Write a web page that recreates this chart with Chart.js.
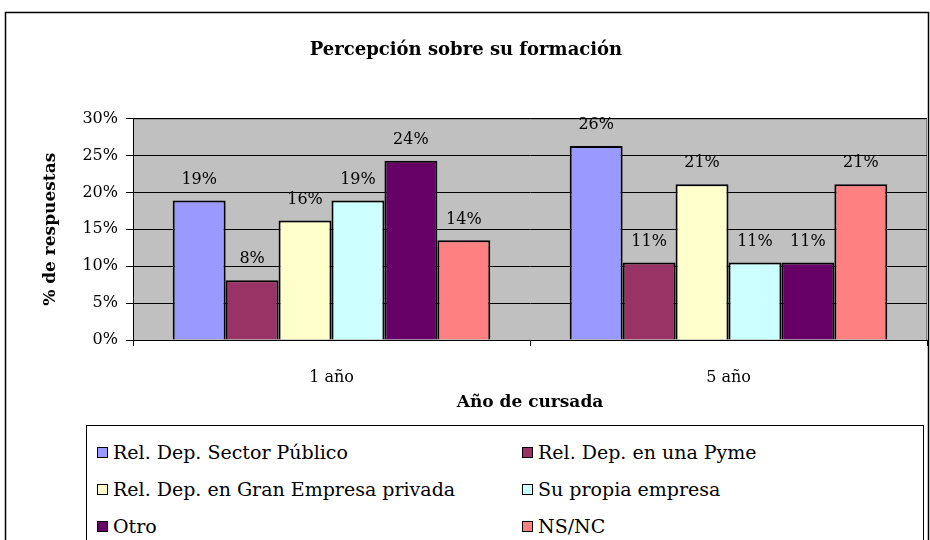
<!DOCTYPE html>
<html>
<head>
<meta charset="utf-8">
<script src="https://cdn.jsdelivr.net/npm/chart.js@4/dist/chart.umd.min.js"></script>
<style>
  body { margin: 0; background: #fff; }
  #wrap { position: relative; width: 930px; height: 540px; overflow: hidden; }
  #leyenda {
    position: absolute; left: 86px; top: 425px; width: 838px; height: 140px;
    border: 1px solid #000; box-sizing: border-box; background: #fff;
    font-family: 'DejaVu Serif', serif; font-size: 19px; color: #000;
  }
  .item { position: absolute; display: flex; align-items: center; white-space: nowrap; font-family: 'DejaVu Serif', serif; }
  .item span.caja { width: 9px; height: 9px; border: 1.5px solid #000; margin-right: 5px; }
</style>
</head>
<body>
<div id="wrap">
  <canvas id="grafico" width="930" height="540"></canvas>
  <div id="leyenda"></div>
</div>
<script>
// Datos (porcentaje de respuestas)
const categorias = ['1 año', '5 año'];
const series = [
  'Rel. Dep. Sector Público',
  'Rel. Dep. en una Pyme',
  'Rel. Dep. en Gran Empresa privada',
  'Su propia empresa',
  'Otro',
  'NS/NC'
];
const valoresPublico = [18.9, 26.3];
const valoresPyme = [8.1, 10.5];
const valoresGranEmpresa = [16.2, 21.1];
const valoresPropia = [18.9, 10.5];
const valoresOtro = [24.3, 10.5];
const valoresNsNc = [13.5, 21.1];
const ticksY = [0, 5, 10, 15, 20, 25, 30];

const valores = [valoresPublico, valoresPyme, valoresGranEmpresa, valoresPropia, valoresOtro, valoresNsNc];
const colores = ['#9999FF', '#993366', '#FFFFCC', '#CCFFFF', '#660066', '#FF8080'];
const fuente = "'DejaVu Serif', serif";

// Fondo gris del área de trazado y marco exterior
const fondo = {
  id: 'fondo',
  beforeDraw(chart) {
    const ctx = chart.ctx;
    const a = chart.chartArea;
    ctx.save();
    ctx.fillStyle = '#fff';
    ctx.fillRect(0, 0, chart.width, chart.height);
    ctx.strokeStyle = '#000';
    ctx.lineWidth = 1.5;
    ctx.strokeRect(5.5, 12.5, 923, 600);
    ctx.fillStyle = '#C0C0C0';
    ctx.fillRect(a.left, a.top, a.right - a.left, a.bottom - a.top);
    ctx.strokeStyle = '#808080';
    ctx.lineWidth = 1;
    ctx.strokeRect(a.left + 0.5, a.top + 0.5, a.right - a.left - 1, a.bottom - a.top);
    ctx.restore();
  }
};

// Etiquetas de valor sobre cada barra
const etiquetas = {
  id: 'etiquetas',
  afterDatasetsDraw(chart) {
    const ctx = chart.ctx;
    ctx.save();
    ctx.font = '16px ' + fuente;
    ctx.fillStyle = '#000';
    ctx.textAlign = 'center';
    ctx.textBaseline = 'middle';
    chart.data.datasets.forEach((ds, i) => {
      chart.getDatasetMeta(i).data.forEach((bar, j) => {
        ctx.fillText(Math.round(ds.data[j]) + '%', bar.x, bar.y - 21);
      });
    });
    ctx.restore();
  }
};

new Chart(document.getElementById('grafico').getContext('2d'), {
  type: 'bar',
  data: {
    labels: categorias,
    datasets: series.map((nombre, i) => ({
      label: nombre,
      data: valores[i],
      backgroundColor: colores[i],
      borderColor: '#000',
      borderWidth: 2,
      categoryPercentage: 0.8,
      barPercentage: 1
    }))
  },
  options: {
    responsive: false,
    animation: false,
    layout: { padding: { top: 12, left: 5, right: 3, bottom: 125 } },
    plugins: {
      legend: { display: false },
      tooltip: { enabled: false },
      title: {
        display: true,
        text: 'Percepción sobre su formación',
        color: '#000',
        font: { family: fuente, size: 18, weight: 'bold' },
        padding: { top: 28, bottom: 57 }
      }
    },
    scales: {
      x: {
        afterFit(scale) { scale.height = 75; },
        grid: { drawOnChartArea: false, drawTicks: true, tickLength: 6, color: '#000' },
        border: { color: '#000', width: 1 },
        ticks: { color: '#000', font: { family: fuente, size: 16 }, padding: 22 },
        title: {
          display: true,
          text: 'Año de cursada',
          color: '#000',
          font: { family: fuente, size: 17, weight: 'bold' },
          padding: { bottom: 2 }
        }
      },
      y: {
        min: 0,
        max: 30,
        afterFit(scale) { scale.width = 128; },
        afterBuildTicks(scale) { scale.ticks = ticksY.map(v => ({ value: v })); },
        grid: { color: '#000', lineWidth: 1, tickLength: 7 },
        border: { color: '#000', width: 1 },
        ticks: {
          color: '#000',
          font: { family: fuente, size: 16 },
          padding: 8,
          callback: v => v + '%'
        },
        title: {
          display: true,
          text: '% de respuestas',
          color: '#000',
          font: { family: fuente, size: 17, weight: 'bold' },
          padding: { top: 35 }
        }
      }
    }
  },
  plugins: [fondo, etiquetas]
});

// Leyenda en dos columnas
const leyenda = document.getElementById('leyenda');
series.forEach((nombre, i) => {
  const item = document.createElement('div');
  item.className = 'item';
  item.style.left = (i % 2 === 0 ? 10 : 435) + 'px';
  item.style.top = (15 + Math.floor(i / 2) * 37) + 'px';
  item.innerHTML = '<span class="caja" style="background:' + colores[i] + '"></span>' + nombre;
  leyenda.appendChild(item);
});
</script>
</body>
</html>
